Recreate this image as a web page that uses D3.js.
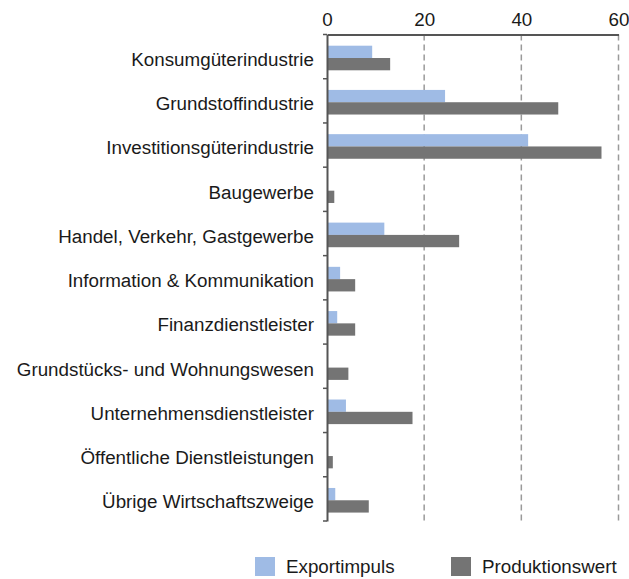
<!DOCTYPE html>
<html lang="de">
<head>
<meta charset="UTF-8">
<title>Exportimpuls und Produktionswert</title>
<script src="https://cdnjs.cloudflare.com/ajax/libs/d3/7.8.5/d3.min.js"></script>
<style>
    body { margin: 0; background: #fff; }
    svg { display: block; font-family: "Liberation Sans", Arial, sans-serif; }
    .grid line { stroke: #9a9a9a; stroke-width: 1.5; stroke-dasharray: 6 4; }
    .axis path, .axis line { stroke: #555; }
    .lbl { font-size: 18.8px; fill: #1a1a1a; }
</style>
</head>
<body>
<div id="chart"></div>
<script>
    const categories = [
        'Konsumgüterindustrie', 'Grundstoffindustrie', 'Investitionsgüterindustrie',
        'Baugewerbe', 'Handel, Verkehr, Gastgewerbe', 'Information & Kommunikation',
        'Finanzdienstleister', 'Grundstücks- und Wohnungswesen', 'Unternehmensdienstleister',
        'Öffentliche Dienstleistungen', 'Übrige Wirtschaftszweige'
    ];
    const exportimpuls = [9.3, 24.3, 41.4, 0, 11.8, 2.7, 2.1, 0, 3.9, 0, 1.7];
    const produktionswert = [13.0, 47.6, 56.5, 1.5, 27.2, 5.8, 5.8, 4.4, 17.6, 1.2, 8.6];
    const xTicks = [0, 20, 40, 60];
    const seriesNames = ['Exportimpuls', 'Produktionswert'];
    const colors = ['#9fbbe5', '#747474'];

    const width = 629, height = 579;
    const margin = { top: 34.5, left: 327, right: 10.5, bottom: 58 };
    const plotW = width - margin.left - margin.right;
    const plotH = height - margin.top - margin.bottom;

    const svg = d3.select('#chart').append('svg')
        .attr('width', width).attr('height', height);

    const x = d3.scaleLinear().domain([0, 60]).range([0, plotW]);
    const y = d3.scaleBand().domain(categories).range([0, plotH]);
    const bh = 12.3;
    const offs = 11.2;

    const g = svg.append('g').attr('transform', `translate(${margin.left},${margin.top})`);

    // dashed grid lines
    g.append('g').attr('class', 'grid')
        .selectAll('line')
        .data(xTicks.filter(d => d > 0))
        .join('line')
        .attr('x1', d => x(d)).attr('x2', d => x(d))
        .attr('y1', 0).attr('y2', plotH);

    // bars
    const rows = categories.map((c, i) => ({ c, v: [exportimpuls[i], produktionswert[i]] }));
    const grp = g.selectAll('.row').data(rows).join('g')
        .attr('transform', d => `translate(0,${y(d.c)})`);
    grp.selectAll('rect')
        .data(d => d.v)
        .join('rect')
        .attr('x', 0)
        .attr('y', (d, j) => offs + j * bh)
        .attr('width', d => x(d))
        .attr('height', bh)
        .attr('fill', (d, j) => colors[j]);

    // top axis
    const xAxis = g.append('g').attr('class', 'axis')
        .call(d3.axisTop(x).tickValues(xTicks).tickSize(0).tickPadding(9));
    xAxis.select('.domain').attr('stroke-width', 2);
    xAxis.selectAll('text').attr('class', 'lbl').attr('font-family', null).attr('font-size', null);

    // left axis with category labels
    const yAxis = g.append('g').attr('class', 'axis')
        .call(d3.axisLeft(y).tickSize(0).tickPadding(13));
    yAxis.select('.domain').attr('stroke-width', 2);
    yAxis.selectAll('text').attr('class', 'lbl').attr('font-family', null).attr('font-size', null)
        .attr('dy', '0.5em');
    // tick marks at band boundaries
    g.append('g').selectAll('line')
        .data(d3.range(categories.length + 1))
        .join('line')
        .attr('x1', -4).attr('x2', 0)
        .attr('y1', i => i * y.step()).attr('y2', i => i * y.step())
        .attr('stroke', '#555').attr('stroke-width', 1.5);

    // legend
    const legX = [255, 451];
    const leg = svg.append('g').selectAll('g').data(seriesNames).join('g')
        .attr('transform', (d, i) => `translate(${legX[i]},557)`);
    leg.append('rect').attr('width', 20).attr('height', 19).attr('fill', (d, i) => colors[i]);
    leg.append('text').attr('class', 'lbl').attr('x', 31).attr('y', 16).text(d => d);
</script>
</body>
</html>
